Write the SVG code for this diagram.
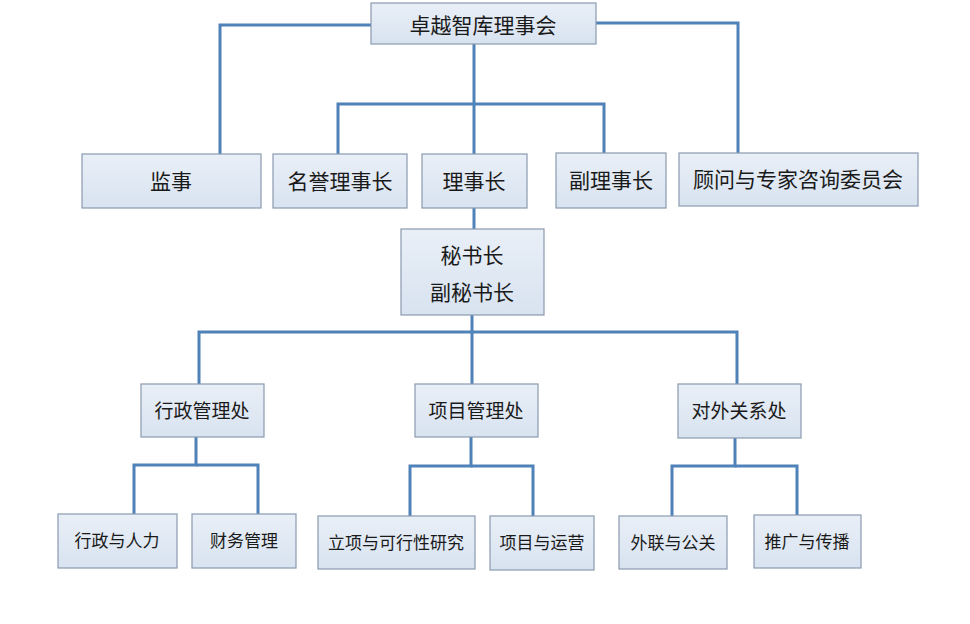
<svg xmlns="http://www.w3.org/2000/svg" width="970" height="624" viewBox="0 0 970 624">
<defs>
<linearGradient id="g" x1="0" y1="0" x2="0" y2="1">
<stop offset="0" stop-color="#e9eff7"/>
<stop offset="1" stop-color="#d8e3f0"/>
</linearGradient>
</defs>
<style>
.box{fill:url(#g);stroke:#8a9ab0;stroke-width:1.2}
.ln{fill:none;stroke:#4f82b8;stroke-width:3}
text{font-family:"Noto Sans CJK SC","Noto Sans",sans-serif;fill:#1a1a1a;text-anchor:middle;dominant-baseline:central}
.t21{font-size:21px}
.t19{font-size:19px}
.t17{font-size:17px}
</style>
<rect width="970" height="624" fill="#ffffff"/>
<g id="connectors">
<polyline class="ln" points="371,25 220,25 220,154"/>
<polyline class="ln" points="596,23 738,23 738,153"/>
<line class="ln" x1="474" y1="44" x2="474" y2="154"/>
<polyline class="ln" points="338,154 338,104 604,104 604,153"/>
<line class="ln" x1="474" y1="208" x2="474" y2="229"/>
<line class="ln" x1="472" y1="315" x2="472" y2="384"/>
<polyline class="ln" points="199,384 199,332 737,332 737,384"/>
<polyline class="ln" points="196,437 196,465 134,465 134,514"/>
<polyline class="ln" points="196,465 258,465 258,514"/>
<polyline class="ln" points="471,437 471,466 410,466 410,516"/>
<polyline class="ln" points="471,466 533,466 533,516"/>
<polyline class="ln" points="735,438 735,466 672,466 672,516"/>
<polyline class="ln" points="735,466 797,466 797,515"/>
</g>
<g id="n-board"><rect class="box" x="371" y="3" width="225" height="41"/><text class="t21" x="483" y="24">卓越智库理事会</text></g>
<g id="n-supervisor"><rect class="box" x="82" y="154" width="179" height="54"/><text class="t21" x="171" y="180">监事</text></g>
<g id="n-honorary"><rect class="box" x="273" y="154" width="134" height="54"/><text class="t21" x="340" y="180">名誉理事长</text></g>
<g id="n-chair"><rect class="box" x="422" y="154" width="105" height="54"/><text class="t21" x="474" y="180">理事长</text></g>
<g id="n-vicechair"><rect class="box" x="556" y="153" width="110" height="55"/><text class="t21" x="611" y="179">副理事长</text></g>
<g id="n-advisory"><rect class="box" x="679" y="153" width="239" height="53"/><text class="t21" x="798" y="178">顾问与专家咨询委员会</text></g>
<g id="n-secretary"><rect class="box" x="401" y="229" width="143" height="86"/><text class="t21" x="472" y="254">秘书长</text><text class="t21" x="472" y="291">副秘书长</text></g>
<g id="n-admin"><rect class="box" x="141" y="384" width="123" height="53"/><text class="t19" x="202" y="409">行政管理处</text></g>
<g id="n-project"><rect class="box" x="415" y="384" width="123" height="53"/><text class="t19" x="476" y="409">项目管理处</text></g>
<g id="n-external"><rect class="box" x="678" y="384" width="123" height="54"/><text class="t19" x="739" y="409">对外关系处</text></g>
<g id="n-hr"><rect class="box" x="58" y="514" width="119" height="54"/><text class="t17" x="117" y="539">行政与人力</text></g>
<g id="n-finance"><rect class="box" x="192" y="514" width="104" height="54"/><text class="t17" x="244" y="539">财务管理</text></g>
<g id="n-feasibility"><rect class="box" x="318" y="516" width="157" height="53"/><text class="t17" x="396" y="541">立项与可行性研究</text></g>
<g id="n-operation"><rect class="box" x="490" y="516" width="104" height="54"/><text class="t17" x="542" y="541">项目与运营</text></g>
<g id="n-pr"><rect class="box" x="619" y="516" width="108" height="53"/><text class="t17" x="673" y="541">外联与公关</text></g>
<g id="n-promo"><rect class="box" x="754" y="515" width="107" height="53"/><text class="t17" x="807" y="540">推广与传播</text></g>
</svg>
